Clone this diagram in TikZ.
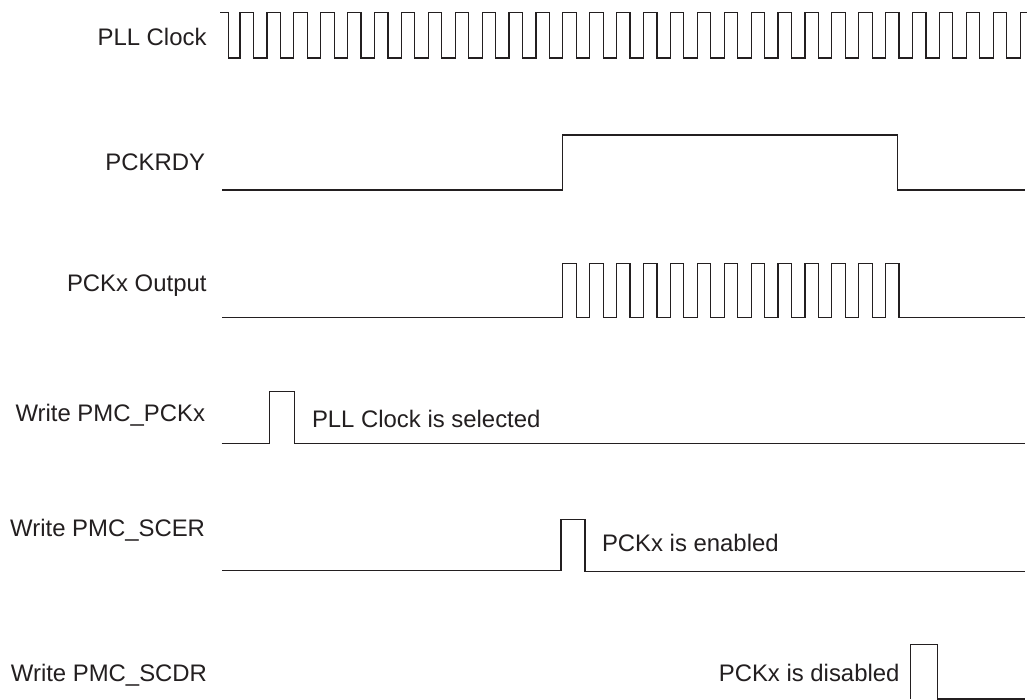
\documentclass[tikz,border=0pt]{standalone}
\usepackage{fontspec}
\setmainfont{Liberation Sans}
\definecolor{ink}{HTML}{231F20}
\tikzset{
  wave/.style={draw=ink, line width=1.2pt, line join=miter},
  sig/.style={inner sep=0pt, outer sep=0pt, text=ink, font=\fontsize{23.9}{28}\selectfont, anchor=base east},
  note/.style={inner sep=0pt, outer sep=0pt, text=ink, font=\fontsize{23.9}{28}\selectfont}
}
\begin{document}
\begin{tikzpicture}[x=1pt,y=-1pt]
\useasboundingbox (0,0) rectangle (1034,700);
\fill[white] (0,0) rectangle (1034,700);

% signal names
\node[sig] (lpll)  at (206.5,45.7)  {PLL Clock};
\node[sig] (lrdy)  at (205,170.7) {PCKRDY};
\node[sig] (lpck)  at (206.5,291.7) {PCKx Output};
\node[sig] (lwpck) at (205,421.7) {Write PMC\_PCKx};
\node[sig] (lscer) at (205,536.7) {Write PMC\_SCER};
\node[sig] (lscdr) at (207,681)   {Write PMC\_SCDR};

% annotations
\node[note, anchor=base west] (tsel) at (312,427.3) {PLL Clock is selected};
\node[note, anchor=base west] (tena) at (602,551.7) {PCKx is enabled};
\node[note, anchor=base east] (tdis) at (899.5,681.7) {PCKx is disabled};

% PLL clock
\draw[wave] (220,12.3) -- (228.5,12.3) -- (228.5,58)
  \foreach \k in {0,...,28} { -- ({240+26.9*\k},58) -- ({240+26.9*\k},12.3) -- ({253.4+26.9*\k},12.3) -- ({253.4+26.9*\k},58) }
  -- (1020.1,58) -- (1020.1,12.3) -- (1027,12.3);

% PCKRDY
\draw[wave] (222,190) -- (562.7,190) -- (562.7,135) -- (897.3,135) -- (897.3,190) -- (1025,190);

% PCKx output
\draw[wave] (222,317.7)
  \foreach \k in {12,...,24} { -- ({240+26.9*\k},317.7) -- ({240+26.9*\k},263.3) -- ({253.4+26.9*\k},263.3) -- ({253.4+26.9*\k},317.7) }
  -- (1025,317.7);

% Write PMC_PCKx
\draw[wave] (221.7,443.3) -- (269.3,443.3) -- (269.3,391.7) -- (294.7,391.7) -- (294.7,443.3) -- (1025,443.3);

% Write PMC_SCER
\draw[wave] (222,570.5) -- (561,570.5) -- (561,519.3) -- (585,519.3) -- (585,571.3) -- (1025,571.3);

% Write PMC_SCDR
\draw[wave] (910.7,699) -- (910.7,644.3) -- (937.3,644.3) -- (937.3,699) -- (1025,699);
\end{tikzpicture}
\end{document}
